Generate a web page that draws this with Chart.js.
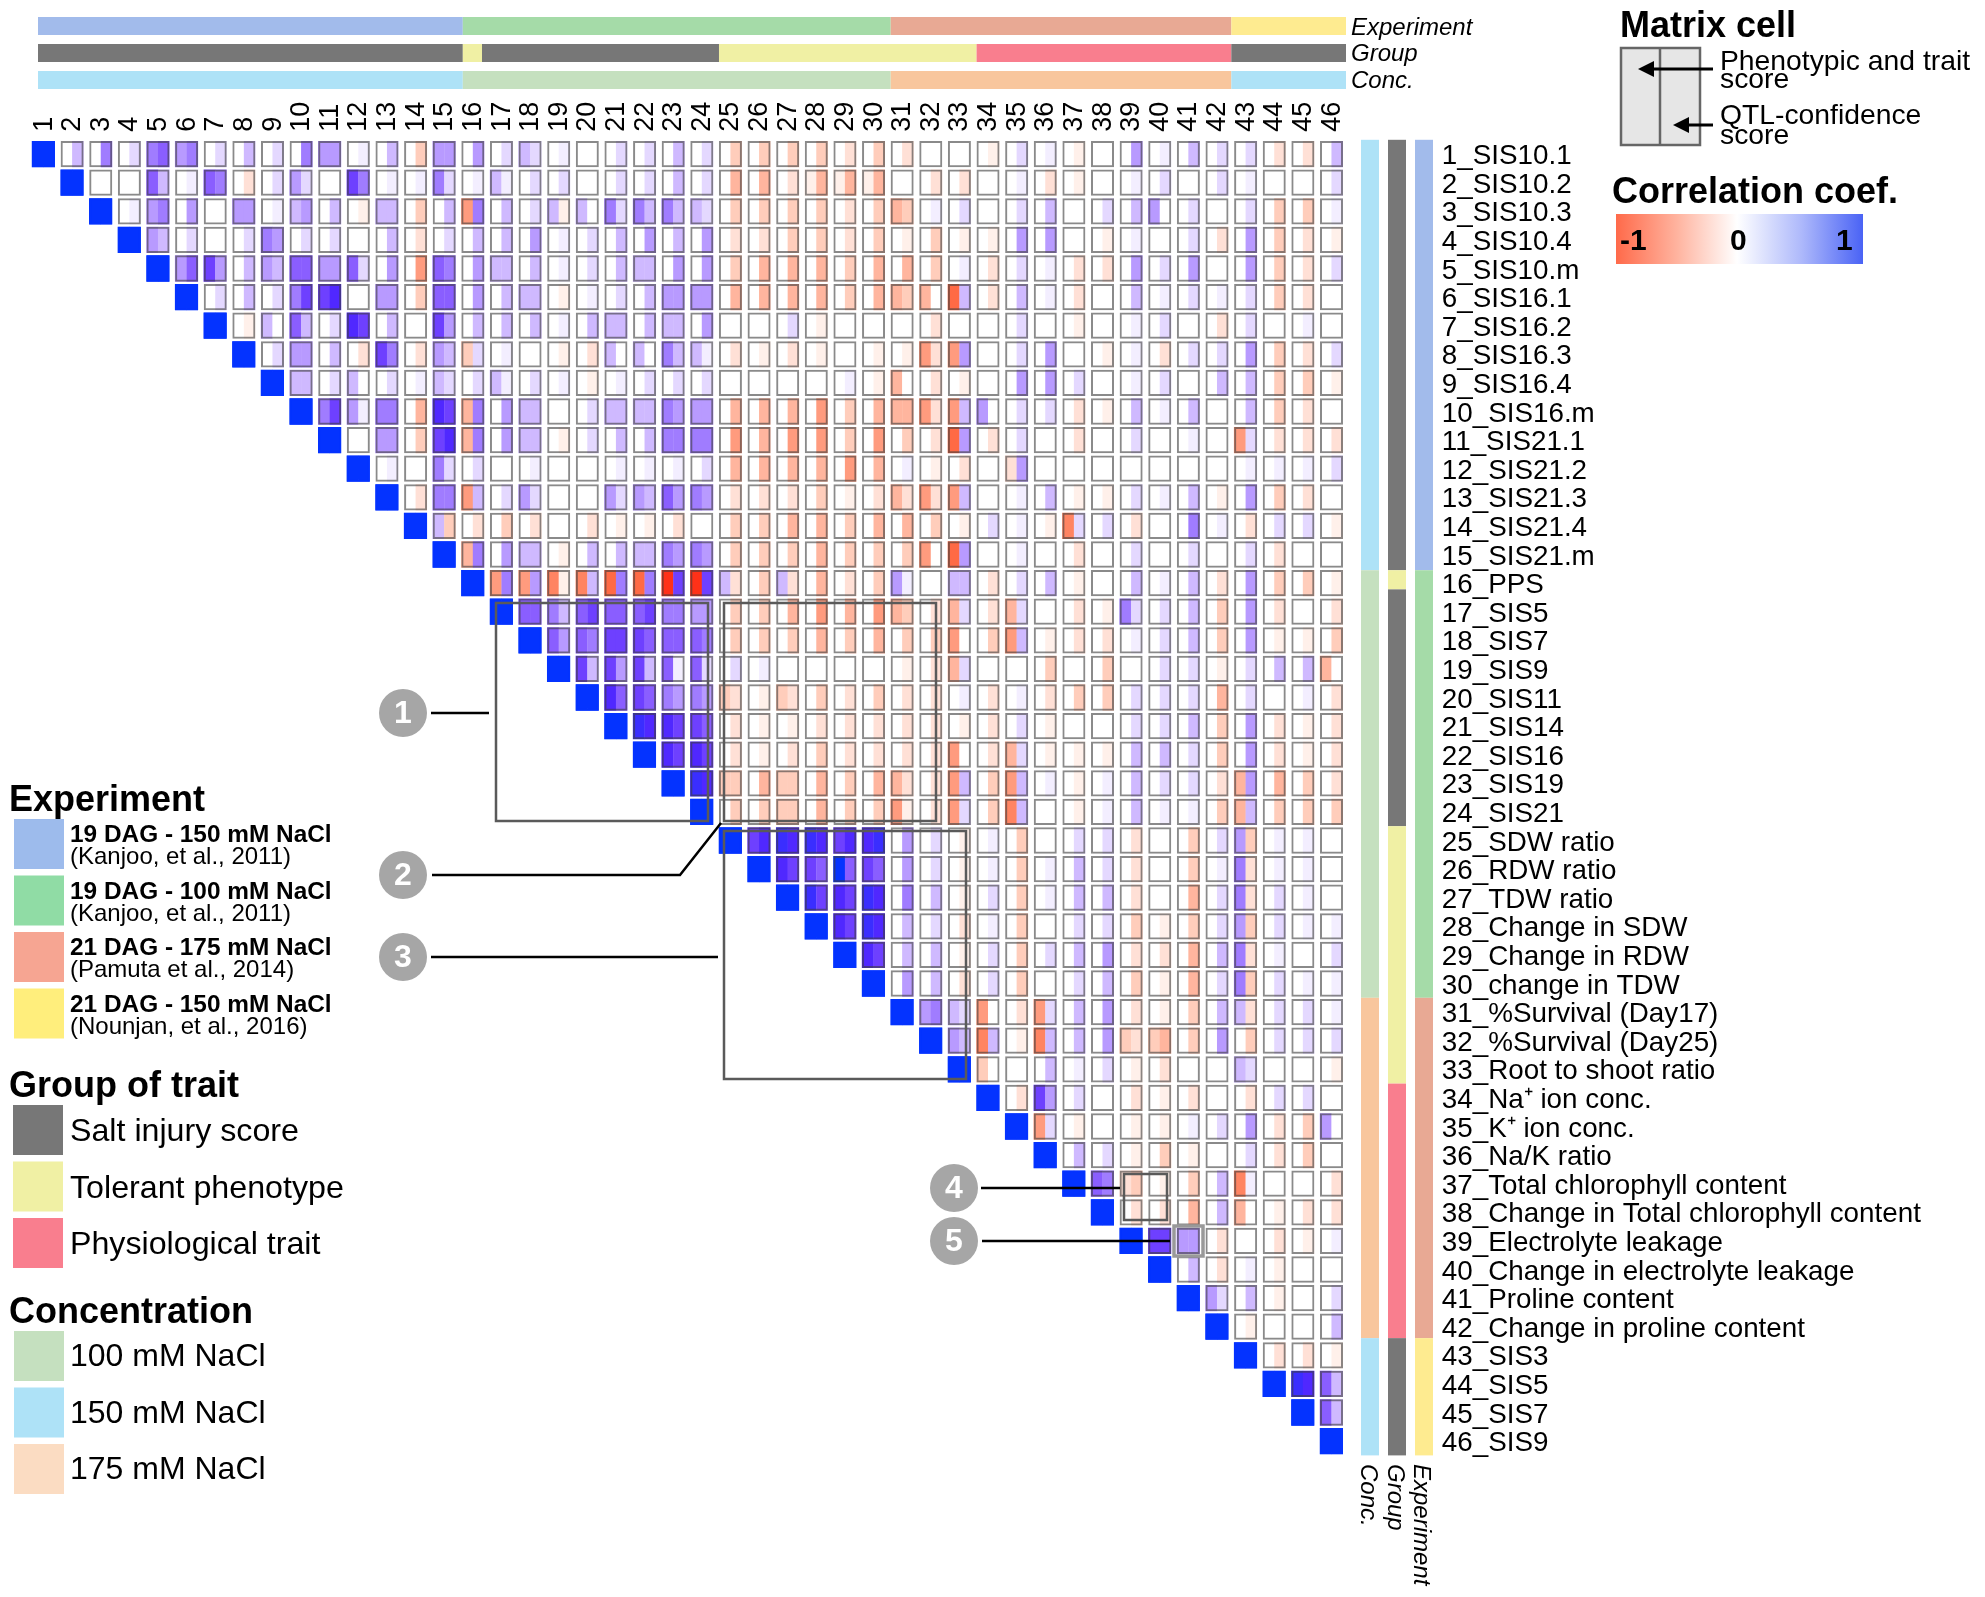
<!DOCTYPE html>
<html>
<head>
<meta charset="utf-8">
<style>
  html, body { margin: 0; padding: 0; background: #fff; }
  canvas { display: block; }
</style>
<script src="https://cdn.jsdelivr.net/npm/chart.js@4"></script>
</head>
<body>
<canvas id="matrix" width="1985" height="1597"></canvas>
<script>
const traitLabels = [
  '1_SIS10.1', '2_SIS10.2', '3_SIS10.3', '4_SIS10.4', '5_SIS10.m', '6_SIS16.1', '7_SIS16.2', '8_SIS16.3',
  '9_SIS16.4', '10_SIS16.m', '11_SIS21.1', '12_SIS21.2', '13_SIS21.3', '14_SIS21.4', '15_SIS21.m', '16_PPS',
  '17_SIS5', '18_SIS7', '19_SIS9', '20_SIS11', '21_SIS14', '22_SIS16', '23_SIS19', '24_SIS21',
  '25_SDW ratio', '26_RDW ratio', '27_TDW ratio', '28_Change in SDW', '29_Change in RDW', '30_change in TDW',
  '31_%Survival (Day17)', '32_%Survival (Day25)', '33_Root to shoot ratio', '34_Na⁺ ion conc.', '35_K⁺ ion conc.',
  '36_Na/K ratio', '37_Total chlorophyll content', '38_Change in Total chlorophyll content', '39_Electrolyte leakage',
  '40_Change in electrolyte leakage', '41_Proline content', '42_Change in proline content',
  '43_SIS3', '44_SIS5', '45_SIS7', '46_SIS9',
];

// one row per trait, starts at the diagonal. pairs of left, right score in tenths of the coef
const cellScores = [
  [10,10, 0,3, 0,5, 0,2, 5,6, 4,5, 0,2, 0,3, 0,2, 0,5, 4,4, 0,1, 0,3, 0,-3, 4,4,
   0,4, 0,2, 3,2, 0,1, 0,0, 0,2, 0,2, 0,3, 0,2,
   0,-3, 0,-3, 0,-3, 0,-3, 0,-2, 0,-3,
   0,-2, 0,0, 0,0, 0,-1, 0,2, 0,1, 0,-1, 0,0, 0,4, 0,1, 0,3, 0,2,
   0,2, 0,-2, 0,-2, 0,3],
  [10,10, 0,0, 0,0, 6,3, 0,1, 6,5, 0,-2, 0,2, 4,2, 0,0, 7,5, 0,1, 0,1, 5,2,
   0,1, 3,1, 0,2, 0,2, 0,0, 0,2, 0,2, 0,3, 0,2,
   0,-4, 0,-4, 0,-2, -1,-4, -1,-4, -1,-4,
   0,0, 0,-2, 0,-2, 0,0, 0,1, 0,-2, 0,-1, 0,0, 0,1, 0,2, 0,0, 0,2,
   0,1, 0,0, 0,0, 0,2],
  [10,10, 0,1, 4,5, 0,4, 0,0, 4,4, 0,1, 3,4, 0,3, 0,-1, 3,3, 0,-3, 0,3,
   -5,5, 0,3, 0,2, 3,-1, 3,0, 5,2, 5,3, 5,3, 3,2,
   0,-3, 0,-3, 0,-3, 0,-3, 0,-2, 0,-3,
   -4,-3, 0,1, 0,2, 0,0, 0,2, 0,3, 0,0, 0,2, 0,3, 4,0, 0,2, 0,0,
   0,2, 0,-3, 0,-3, 0,1],
  [10,10, 4,3, 0,2, 0,0, 0,2, 5,4, 0,2, 0,2, 0,0, 0,3, 0,-2, 0,2,
   0,3, 0,3, 0,4, 0,1, 0,2, 0,3, 0,4, 0,3, 0,4,
   0,-2, 0,-2, 0,-3, 0,-3, 0,-2, 0,-3,
   0,-1, 0,-3, 0,-1, 0,-1, 0,4, 0,4, 0,0, 0,-1, 0,1, 0,0, 0,2, 0,-2,
   0,4, 0,-3, 0,-2, 0,-1],
  [10,10, 4,6, 7,4, 0,3, 4,3, 6,6, 4,4, 6,2, 0,4, 0,-5, 6,5,
   0,4, 3,3, 0,3, 0,1, 0,2, 0,3, 3,3, 0,4, 0,4,
   0,-3, 0,-4, 0,-4, 0,-4, 0,-3, 0,-4,
   0,-4, 0,-3, 0,1, 0,-2, 0,2, 0,1, 0,-2, 0,-2, 0,4, 0,2, 0,4, 0,0,
   0,4, 0,-3, 0,-2, 0,2],
  [10,10, 0,2, 0,3, 0,2, 5,7, 7,8, 0,0, 4,4, 0,-3, 6,6,
   0,4, 0,3, 3,3, 0,-1, 0,1, 0,2, 0,3, 4,4, 4,4,
   0,-4, 0,-4, 0,-4, 0,-4, 0,-3, 0,-4,
   -4,-3, -4,0, -7,3, 0,-2, 0,3, 0,1, 0,-2, 0,0, 0,3, 0,1, 0,2, 0,1,
   0,2, 0,-3, 0,-2, 0,0],
  [10,10, 0,-1, 3,0, 6,3, 0,2, 8,7, 0,3, 0,0, 7,4,
   0,3, 0,3, 0,3, 0,1, 0,3, 3,3, 0,3, 3,3, 0,4,
   0,0, 0,0, 0,2, 0,-1, 0,0, 0,0,
   0,0, 0,-2, 0,0, 0,0, 0,2, 0,0, 0,-1, 0,0, 0,1, 0,2, 0,0, 0,-2,
   0,2, 0,0, 0,1, 0,0],
  [10,10, 0,2, 4,4, 0,3, 0,-2, 7,5, 0,-2, 4,3,
   -3,2, 0,1, 0,0, 0,-1, 0,-2, 3,0, 3,0, 5,3, 3,1,
   0,-2, 0,-1, 0,-2, 0,-1, 0,0, 0,-1,
   0,-1, -5,-2, -5,4, 0,0, 0,2, 0,4, 0,0, 0,-1, 0,1, 0,-2, 0,2, 0,2,
   0,4, 0,-3, 0,-2, 0,2],
  [10,10, 3,3, 0,2, 3,0, 0,2, 0,1, 3,2,
   0,2, 3,1, 0,2, 0,1, 0,-1, 0,1, 0,2, 0,2, 0,2,
   0,0, 0,0, 0,0, 0,0, 0,1, 0,-1,
   -4,0, 0,-2, 0,-1, 0,0, 0,4, 0,4, 0,2, 0,0, 0,1, 0,2, 0,0, 0,3,
   0,3, 0,-3, 0,-3, 0,-1],
  [10,10, 5,7, 4,1, 5,5, 0,-4, 8,7,
   -4,5, 0,4, 3,3, 0,0, 0,2, 3,3, 3,3, 5,4, 4,4,
   0,-4, 0,-4, 0,-4, 0,-5, 0,-3, 0,-4,
   -4,-4, -5,-2, -5,3, 4,0, 0,2, 0,2, 0,-2, 0,-1, 0,3, 0,1, 0,3, 0,0,
   0,3, 0,-3, 0,-2, 0,0],
  [10,10, 0,0, 4,4, 0,-3, 7,8,
   -4,5, 0,4, 3,3, 0,-1, 0,2, 0,3, 0,3, 5,5, 5,5,
   0,-5, 0,-4, 0,-5, 0,-5, 0,-3, 0,-5,
   0,-3, 0,-2, -7,4, 0,-2, 0,2, 0,0, 0,-2, 0,0, 0,2, 0,0, 0,1, 0,0,
   -5,2, 0,-2, 0,-2, 0,-2],
  [10,10, 0,1, 0,0, 5,2,
   0,2, 0,0, 0,1, 0,0, 0,0, 0,1, 0,1, 0,1, 0,2,
   0,-4, 0,-4, 0,-4, 0,-4, 0,-5, 0,-4,
   0,1, 0,-1, 0,-2, 0,0, -2,4, 0,0, 0,0, 0,0, 0,0, 0,0, 0,0, 0,0,
   0,1, 0,1, 0,1, 0,2],
  [10,10, 0,-2, 5,5,
   -5,3, 0,2, 4,2, 0,0, 0,0, 4,2, 4,3, 6,4, 5,4,
   0,-2, 0,-2, 0,-2, 0,-3, 0,-1, 0,-2,
   -4,-2, -5,-2, -5,3, 0,0, 0,1, 0,3, 0,-1, 0,-1, 0,2, 0,1, 0,3, 0,-1,
   0,4, 0,-3, 0,-2, 0,0],
  [10,10, 3,-3,
   0,-2, 0,-3, 0,-2, 0,0, 0,-2, 0,-1, 0,-1, 0,-2, 0,0,
   0,-3, 0,-3, 0,-4, 0,-4, 0,-3, 0,-4,
   0,-4, 0,-3, 0,-1, 0,2, 0,1, 0,-1, -6,2, 0,2, 0,-2, 0,0, 0,5, 0,1,
   0,-2, 0,2, 0,2, 0,-1],
  [10,10,
   -4,5, 0,4, 3,3, 0,-1, 0,3, 0,3, 3,3, 5,4, 5,4,
   0,-3, 0,-3, 0,-3, 0,-4, 0,-3, 0,-3,
   0,-3, -5,0, -7,4, 0,0, 0,1, 0,0, 0,-2, 0,0, 0,2, 0,0, 0,2, 0,0,
   0,2, 0,-2, 0,0, 0,0],
  [10,10, -5,5, -5,4, -6,-1, -6,3, -7,5, -7,5, -9,7, -9,7,
   3,-2, 0,-3, 3,-2, 0,-4, 0,-2, 0,-3,
   4,1, 0,0, 3,3, 0,-2, 0,2, 0,3, 0,-1, 0,0, 0,3, 0,1, 0,3, 0,-2,
   0,4, 0,-3, 0,-3, 0,-1],
  [10,10, 6,6, 5,3, 6,7, 6,6, 6,7, 5,5, 4,4,
   0,-3, 0,-3, 0,-4, 0,-5, 0,-4, 0,-5,
   -4,-3, 0,-2, -4,2, 0,-2, -4,2, 0,0, 0,-2, 0,-1, 5,2, 0,2, 0,3, 0,-3,
   0,4, 0,-2, 0,0, 0,-2],
  [10,10, 6,4, 6,5, 7,7, 7,6, 6,6, 6,5,
   0,-3, 0,-3, 0,-3, 0,-4, 0,-3, 0,-4,
   0,-3, 0,-3, -5,0, 0,-3, -5,3, 0,-1, 0,-2, 0,-2, 0,1, 0,2, 0,3, 0,-3,
   0,4, 0,-1, 0,-1, 0,-3],
  [10,10, 7,3, 7,4, 7,3, 6,1, 6,2,
   0,2, 0,1, 0,0, 0,0, 0,0, 0,0,
   0,-1, 0,-2, -4,2, 0,0, 0,0, 0,-3, 0,0, 0,-3, 0,0, 0,2, 0,2, 0,-1,
   0,2, 0,3, 0,3, -4,0],
  [10,10, 8,6, 7,6, 5,4, 5,4,
   -3,-2, 0,-1, -3,-2, 0,-3, 0,-2, 0,-3,
   0,-2, 0,-2, 0,1, 0,-2, 0,1, 0,-2, 0,-3, 0,-3, 0,2, 0,2, 0,2, 0,-4,
   0,2, 0,0, 0,1, 0,-2],
  [10,10, 9,8, 8,7, 7,6,
   0,-2, 0,-1, 0,-1, 0,-2, 0,-2, 0,-2,
   0,-2, 0,-2, 0,-1, 0,-2, 0,2, 0,-1, 0,0, 0,0, 0,2, 0,2, 0,3, 0,-3,
   0,4, 0,-2, 0,-1, 0,-2],
  [10,10, 8,7, 8,7,
   0,-2, 0,-1, 0,-2, 0,-3, 0,-2, 0,-2,
   0,-2, 0,-2, -5,0, 0,-2, -4,2, 0,-1, 0,-1, 0,-1, 0,3, 0,3, 0,2, 0,-3,
   0,4, 0,-2, 0,-1, 0,-2],
  [10,10, 9,8,
   -3,-3, 0,-4, -3,-3, 0,-4, 0,-3, 0,-4,
   -4,-2, 0,-2, -5,3, 0,-3, -5,3, 0,1, 0,-1, 0,1, 0,3, 0,2, 0,2, 0,-2,
   -4,4, 0,-4, 0,-3, 0,-2],
  [10,10,
   0,-3, 0,-3, -3,-3, 0,-4, 0,-3, 0,-3,
   -5,-1, 0,-2, -5,2, 0,-3, -6,3, 0,0, 0,-1, 0,1, 0,3, 0,1, 0,1, 0,-3,
   -4,3, 0,-3, 0,-3, 0,-3],
  [10,10, 7,8, 9,8, 9,8, 7,8, 8,9,
   0,4, 0,2, 0,-1, 0,1, 0,-3, 0,0, 0,2, 0,2, 0,-2, 0,0, 0,-3, 0,2,
   4,-3, 0,1, 0,1, 0,0],
  [10,10, 8,7, 7,6, 10,6, 7,6,
   0,4, 0,2, 0,-1, 0,1, 0,-3, 0,1, 0,3, 0,2, 0,-2, 0,0, 0,-3, 0,1,
   5,-2, 0,1, 0,1, 0,0],
  [10,10, 9,7, 8,7, 9,8,
   0,5, 0,3, 0,-1, 0,2, 0,-3, 0,1, 0,3, 0,3, 0,-2, 0,0, 0,-4, 0,2,
   5,-2, 0,2, 0,1, 0,0],
  [10,10, 8,7, 9,8,
   0,3, 0,2, 0,-2, 0,1, 0,-3, 0,0, 0,2, 0,2, 0,-3, 0,-1, 0,-3, 0,2,
   4,-3, 0,2, 0,1, 0,1],
  [10,10, 8,7,
   0,3, 0,3, 0,-1, 0,2, 0,-3, 0,2, 0,3, 0,4, 0,-2, 0,-2, 0,-4, 0,3,
   5,-2, 0,1, 0,0, 0,2],
  [10,10,
   0,4, 0,3, 0,-2, 0,2, 0,-3, 0,0, 0,2, 0,3, 0,-3, 0,-1, 0,-4, 0,2,
   5,-3, 0,2, 0,1, 0,1],
  [10,10, 4,5, 3,2, -5,0, 0,-2, -5,2, 0,3, 0,4, 0,-2, 0,-1, 0,-3, 0,3,
   3,-2, 0,2, 0,2, 0,1],
  [10,10, 4,3, -6,3, 0,-1, -6,3, 0,3, 0,4, -3,-2, -3,-4, 0,-3, 0,4,
   0,-3, 0,2, 0,2, 0,2],
  [10,10, -3,0, 0,0, 0,3, 0,1, 0,2, 0,-1, 0,-2, 0,0, 0,0,
   3,2, 0,0, 0,0, 0,-1],
  [10,10, 0,-2, 7,4, 0,2, 0,0, 0,-2, 0,-1, 0,-2, 0,0,
   0,-2, 0,2, 0,2, 0,0],
  [10,10, -5,2, 0,-1, 0,0, 0,-1, 0,-1, 0,1, 0,2,
   0,4, 0,-2, 0,-3, 4,0],
  [10,10, 0,3, 0,2, 0,-1, 0,-3, 0,-1, 0,0,
   0,2, 0,-2, 0,-3, 0,0],
  [10,10, 6,5, -2,-3, 0,-1, 0,-3, 0,3,
   -6,1, 0,0, 0,0, 0,-2],
  [10,10, 0,-2, 0,-2, 0,-4, 0,3,
   -4,0, 0,-1, 0,-2, 0,-2],
  [10,10, 7,7, 4,4, 0,-2,
   0,0, 0,-2, 0,-1, 0,1],
  [10,10, 0,3, 0,-2,
   0,1, 0,-1, 0,0, 0,0],
  [10,10, 4,2,
   0,3, 0,-1, 0,0, 0,2],
  [10,10,
   0,-1, 0,0, 0,0, 0,3],
  [10,10, 0,-2, 0,-2, 0,-1],
  [10,10, 9,8, 6,3],
  [10,10, 6,3],
  [10,10],
];

// first trait of each block, last entry closes the axis
const experimentBreaks = [1, 16.05, 31, 42.9, 47];
const experimentColors = ['#a2bbeb', '#a5dba8', '#e8a994', '#feeb90'];
const groupBreaks = [1, 16.05, 16.72, 25, 34, 42.9, 47];
const groupColors = ['#777777', '#f0f0a4', '#777777', '#f0f0a4', '#f97e8e', '#777777'];
const concBreaks = [1, 16.05, 31, 42.9, 47];
const concColors = ['#aee2f7', '#c5e0bf', '#f8c69d', '#aee2f7'];

const experimentLegend = [
  ['19 DAG - 150 mM NaCl', '(Kanjoo, et al., 2011)', '#9dbbec'],
  ['19 DAG - 100 mM NaCl', '(Kanjoo, et al., 2011)', '#90dca5'],
  ['21 DAG - 175 mM NaCl', '(Pamuta et al., 2014)', '#f6a592'],
  ['21 DAG - 150 mM NaCl', '(Nounjan, et al., 2016)', '#ffee7c'],
];
const groupLegend = [['Salt injury score', '#777777'], ['Tolerant phenotype', '#f0f0a4'], ['Physiological trait', '#f97e8e']];
const concLegend = [['100 mM NaCl', '#c5e0bf'], ['150 mM NaCl', '#aee2f7'], ['175 mM NaCl', '#fbdcc2']];

const BLUES = ['#ffffff', '#f3eeff', '#e4d8ff', '#cfb9ff', '#b89aff', '#a07cff', '#8a5eff', '#6e40ff', '#5028ff', '#3a2eff', '#0433ff'];
const REDS = ['#ffffff', '#fff0ea', '#ffe0d6', '#ffcdbb', '#ffb59e', '#ff9b7e', '#ff8462', '#ff6a45', '#ff4e2c', '#ff3118', '#ff2000'];
const FONT = '"Liberation Sans", Arial, sans-serif';

function scoreColor(v) {
  return v < 0 ? REDS[-v] : BLUES[v];
}

const leftCells = [], rightCells = [], frames = [];
const leftColors = [], rightColors = [], frameColors = [], frameFills = [];
cellScores.forEach((row, r) => {
  for (let i = 0; i < row.length / 2; i++) {
    const col = r + i + 1, y = [r + 1 - 0.46, r + 1 + 0.46];
    leftCells.push({ x: col - 0.2, y });
    rightCells.push({ x: col + 0.2, y });
    frames.push({ x: col, y });
    leftColors.push(scoreColor(row[i * 2]));
    rightColors.push(scoreColor(row[i * 2 + 1]));
    frameColors.push(i === 0 ? '#0433ff' : 'rgba(60,60,60,0.6)');
    // diagonal is one solid block, no seam between the halves
    frameFills.push(i === 0 ? '#0433ff' : 'rgba(0,0,0,0)');
  }
});

function text(ctx, str, x, y, font, color) {
  ctx.font = font + ' ' + FONT;
  ctx.fillStyle = color || '#000';
  ctx.textAlign = 'left';
  ctx.textBaseline = 'alphabetic';
  ctx.fillText(str, x, y);
}

function line(ctx, pts, width, color) {
  ctx.beginPath();
  ctx.moveTo(pts[0][0], pts[0][1]);
  pts.slice(1).forEach(p => ctx.lineTo(p[0], p[1]));
  ctx.lineWidth = width;
  ctx.strokeStyle = color;
  ctx.stroke();
}

function topStrip(ctx, xs, breaks, colors, y, h) {
  colors.forEach((c, i) => {
    const a = Math.max(xs.getPixelForValue(breaks[i] - 0.4), 38);
    const b = Math.min(xs.getPixelForValue(breaks[i + 1] - 0.4), 1346);
    ctx.fillStyle = c;
    ctx.fillRect(a, y, b - a, h);
  });
}

function sideStrip(ctx, ys, breaks, colors, x, w) {
  colors.forEach((c, i) => {
    const a = ys.getPixelForValue(breaks[i] - 0.5);
    const b = ys.getPixelForValue(breaks[i + 1] - 0.5);
    ctx.fillStyle = c;
    ctx.fillRect(x, a, w, b - a);
  });
}

function badge(ctx, n, x, y) {
  ctx.beginPath();
  ctx.arc(x, y, 24, 0, Math.PI * 2);
  ctx.fillStyle = '#a6a6a6';
  ctx.fill();
  ctx.font = 'bold 32px ' + FONT;
  ctx.fillStyle = '#fff';
  ctx.textAlign = 'center';
  ctx.textBaseline = 'middle';
  ctx.fillText(n, x, y + 1);
}

function arrow(ctx, x0, tip, y) {
  line(ctx, [[x0, y], [tip + 10, y]], 3, '#000');
  ctx.beginPath();
  ctx.moveTo(tip, y);
  ctx.lineTo(tip + 16, y - 8);
  ctx.lineTo(tip + 16, y + 8);
  ctx.closePath();
  ctx.fillStyle = '#000';
  ctx.fill();
}

function rotated(ctx, str, x, y) {
  ctx.save();
  ctx.translate(x, y);
  ctx.rotate(Math.PI / 2);
  text(ctx, str, 0, 0, 'italic 24px');
  ctx.restore();
}

const overlay = {
  id: 'overlay',
  afterDraw(chart) {
    const ctx = chart.ctx, xs = chart.scales.x, ys = chart.scales.y;
    ctx.save();

    // annotation strips
    topStrip(ctx, xs, experimentBreaks, experimentColors, 17, 18);
    topStrip(ctx, xs, groupBreaks, groupColors, 44, 18);
    topStrip(ctx, xs, concBreaks, concColors, 71, 18);
    sideStrip(ctx, ys, concBreaks, concColors, 1361, 18);
    sideStrip(ctx, ys, groupBreaks, groupColors, 1388, 18);
    sideStrip(ctx, ys, experimentBreaks, experimentColors, 1415, 18);
    text(ctx, 'Experiment', 1351, 35, 'italic 24px');
    text(ctx, 'Group', 1351, 61, 'italic 24px');
    text(ctx, 'Conc.', 1351, 88, 'italic 24px');
    rotated(ctx, 'Conc.', 1361, 1464);
    rotated(ctx, 'Group', 1388, 1464);
    rotated(ctx, 'Experiment', 1414, 1464);

    // highlighted regions
    [[496, 603, 708, 821], [724, 603, 936, 821], [724, 831, 966, 1079], [1124, 1174, 1167, 1220]].forEach(b => {
      ctx.lineWidth = 2.5;
      ctx.strokeStyle = '#5a5a5a';
      ctx.strokeRect(b[0], b[1], b[2] - b[0], b[3] - b[1]);
    });
    ctx.lineWidth = 3.5;
    ctx.strokeStyle = '#999';
    ctx.strokeRect(1174, 1226, 29, 30);

    // callouts
    line(ctx, [[431, 713], [489, 713]], 2.5, '#000');
    line(ctx, [[432, 875], [680, 875], [721, 823]], 2.5, '#000');
    line(ctx, [[431, 957], [718, 957]], 2.5, '#000');
    line(ctx, [[981, 1188], [1120, 1188]], 2.5, '#000');
    line(ctx, [[982, 1241], [1170, 1241]], 2.5, '#000');
    badge(ctx, '1', 403, 713);
    badge(ctx, '2', 403, 875);
    badge(ctx, '3', 403, 957);
    badge(ctx, '4', 954, 1188);
    badge(ctx, '5', 954, 1241);

    // matrix cell key
    text(ctx, 'Matrix cell', 1620, 37, 'bold 36px');
    ctx.fillStyle = '#e6e6e6';
    ctx.fillRect(1621, 48, 79, 97);
    ctx.lineWidth = 2.5;
    ctx.strokeStyle = '#666';
    ctx.strokeRect(1621, 48, 79, 97);
    line(ctx, [[1660, 48], [1660, 145]], 2.5, '#666');
    arrow(ctx, 1713, 1638, 69);
    arrow(ctx, 1713, 1673, 125);
    text(ctx, 'Phenotypic and trait', 1720, 70, '28.3px');
    text(ctx, 'score', 1720, 88, '28.3px');
    text(ctx, 'QTL-confidence', 1720, 124, '28.3px');
    text(ctx, 'score', 1720, 144, '28.3px');

    // colour key
    text(ctx, 'Correlation coef.', 1612, 203, 'bold 36px');
    const grad = ctx.createLinearGradient(1616, 0, 1863, 0);
    grad.addColorStop(0, '#ff6a4a');
    grad.addColorStop(0.25, '#ffb4a0');
    grad.addColorStop(0.49, '#ffffff');
    grad.addColorStop(0.75, '#aeb9fb');
    grad.addColorStop(1, '#4a63f5');
    ctx.fillStyle = grad;
    ctx.fillRect(1616, 214, 247, 50);
    text(ctx, '-1', 1620, 250, 'bold 30px');
    text(ctx, '0', 1730, 250, 'bold 30px');
    text(ctx, '1', 1836, 250, 'bold 30px');

    // legends
    text(ctx, 'Experiment', 9, 811, 'bold 36px');
    experimentLegend.forEach((e, i) => {
      const top = 819 + i * 56.5;
      ctx.fillStyle = e[2];
      ctx.fillRect(14, top, 50, 50);
      text(ctx, e[0], 70, top + 23, 'bold 24.4px');
      text(ctx, e[1], 70, top + 45, '24px');
    });
    text(ctx, 'Group of trait', 9, 1097, 'bold 36px');
    groupLegend.forEach((e, i) => {
      const top = 1105 + i * 56.5;
      ctx.fillStyle = e[1];
      ctx.fillRect(13, top, 50, 50);
      text(ctx, e[0], 70, top + 36, '32.2px');
    });
    text(ctx, 'Concentration', 9, 1323, 'bold 36px');
    concLegend.forEach((e, i) => {
      const top = 1331 + i * 56.5;
      ctx.fillStyle = e[1];
      ctx.fillRect(14, top, 50, 50);
      text(ctx, e[0], 70, top + 35, '32px');
    });

    ctx.restore();
  },
};

function traitTicks(scale) {
  scale.ticks = traitLabels.map((_, i) => ({ value: i + 1 }));
}

new Chart(document.getElementById('matrix'), {
  type: 'bar',
  data: {
    datasets: [
      { data: leftCells, backgroundColor: leftColors, barThickness: 12, order: 3 },
      { data: rightCells, backgroundColor: rightColors, barThickness: 11.5, order: 2 },
      { data: frames, backgroundColor: frameFills, borderColor: frameColors, borderWidth: 2, barThickness: 23, order: 1 },
    ],
  },
  options: {
    responsive: false,
    animation: false,
    events: [],
    layout: { padding: { left: 29.2, top: 0, right: 0, bottom: 141.6 } },
    plugins: { legend: { display: false }, tooltip: { enabled: false } },
    datasets: { bar: { grouped: false, borderSkipped: false, inflateAmount: 0 } },
    scales: {
      x: {
        type: 'linear',
        position: 'top',
        offset: false,
        min: 0.5,
        max: 46.5,
        grid: { display: false, drawTicks: false, offset: false },
        border: { display: false },
        ticks: {
          autoSkip: false,
          minRotation: 90,
          maxRotation: 90,
          padding: 8,
          labelOffset: 33,
          color: '#000',
          font: { family: FONT, size: 27 },
          callback(v) { return v; },
        },
        afterBuildTicks: traitTicks,
        afterFit(scale) {
          scale.height = 139.8;
          scale.paddingLeft = 0;
          scale.paddingRight = 0;
        },
      },
      y: {
        type: 'linear',
        position: 'right',
        reverse: true,
        min: 0.5,
        max: 46.5,
        grid: { display: false, drawTicks: false },
        border: { display: false },
        ticks: {
          autoSkip: false,
          padding: 96,
          labelOffset: 2.5,
          color: '#000',
          font: { family: FONT, size: 27.8 },
          callback(v) { return traitLabels[v - 1]; },
        },
        afterBuildTicks: traitTicks,
        afterFit(scale) {
          scale.width = 639.2;
          scale.paddingTop = 0;
          scale.paddingBottom = 0;
        },
      },
    },
  },
  plugins: [overlay],
});
</script>
</body>
</html>
